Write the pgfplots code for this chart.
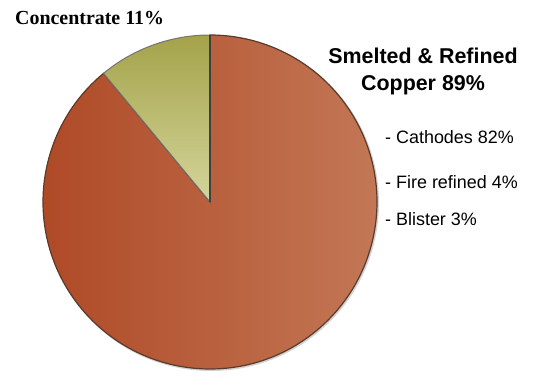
\documentclass[border=0pt]{standalone}
\usepackage{pgfplots}
\pgfplotsset{compat=1.18}
\usepackage{fontspec}
\setmainfont{Liberation Sans}
\newfontfamily\serifb{Liberation Serif}
\definecolor{cuL}{HTML}{AE4724}
\definecolor{cuR}{HTML}{C47A58}
\definecolor{cuEdge}{HTML}{5A3A2A}
\definecolor{coTop}{HTML}{A4A34A}
\definecolor{coBot}{HTML}{D4D59C}
% slice values (percent)
\def\vConc{11}
\def\vCopper{89}
\begin{document}
\begin{tikzpicture}
\begin{axis}[
  x=1bp, y=1bp,
  xmin=0, xmax=545, ymin=0, ymax=370,
  hide axis, clip=false,
  scale only axis,
]
\path (axis cs:0,0) rectangle (axis cs:545,370);
\pgfmathsetmacro{\aA}{90}
\pgfmathsetmacro{\aB}{90+\vConc*3.6}
\pgfmathsetmacro{\aC}{\aB+\vCopper*3.6}
% shadow
\fill[black!35, opacity=0.5] (axis cs:211,167) circle[radius=168bp];
% copper slice
\shade[left color=cuL, right color=cuR, draw=cuEdge, line width=1.2pt]
  (axis cs:210,168) -- ++(\aB:167bp) arc[start angle=\aB, end angle=\aC, radius=167bp] -- cycle;
% concentrate slice
\shade[top color=coTop, bottom color=coBot, draw=black!55, line width=1pt]
  (axis cs:210,168) -- ++(\aA:167bp) arc[start angle=\aA, end angle=\aB, radius=167bp] -- cycle;
\draw[black!75, line width=1.5pt] (axis cs:210,168) -- ++(90:167bp);
\node[anchor=west, font=\serifb\bfseries\fontsize{20}{22}\selectfont, inner sep=0pt] at (axis cs:15,352) {Concentrate 11\%};
\node[align=center, font=\bfseries\fontsize{21.5}{27}\selectfont, inner sep=0pt] at (axis cs:423,298.5) {Smelted \& Refined\\Copper 89\%};
\node[anchor=west, font=\fontsize{18}{20}\selectfont, inner sep=0pt] at (axis cs:385,233) {- Cathodes 82\%};
\node[anchor=west, font=\fontsize{18}{20}\selectfont, inner sep=0pt] at (axis cs:385,188) {- Fire refined 4\%};
\node[anchor=west, font=\fontsize{18}{20}\selectfont, inner sep=0pt] at (axis cs:385,151) {- Blister 3\%};
\end{axis}
\end{tikzpicture}
\end{document}
